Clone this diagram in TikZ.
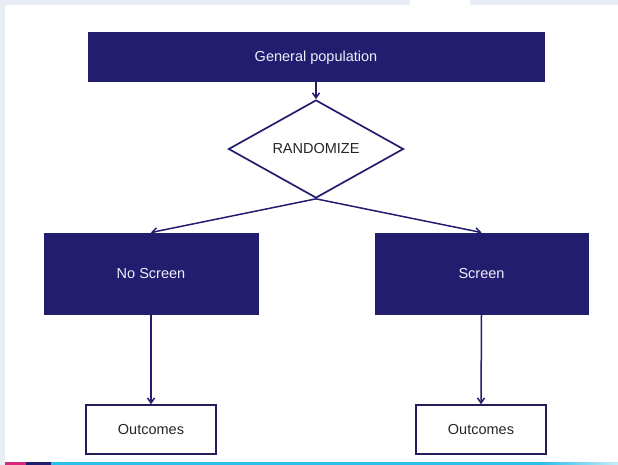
\documentclass[tikz,border=0pt]{standalone}
\usepackage{fontspec}
\setmainfont{Liberation Sans}
\usetikzlibrary{shapes.geometric,arrows.meta}
\definecolor{navy}{RGB}{35,29,112}
\definecolor{edge}{RGB}{35,30,90}
\definecolor{bgstrip}{RGB}{232,236,245}
\definecolor{magenta}{RGB}{214,40,122}
\definecolor{cyanline}{RGB}{40,190,232}
\definecolor{lightcyan}{RGB}{200,236,248}
\definecolor{boxtext}{RGB}{240,238,250}
\tikzset{
  darkbox/.style={draw=navy,fill=navy,text=boxtext,line width=1pt,inner sep=0pt,font=\fontsize{14.5}{17}\selectfont},
  outbox/.style={draw=edge,fill=white,text=black!85,line width=1.5pt,inner sep=0pt,minimum width=130pt,minimum height=49pt,font=\fontsize{14.5}{17}\selectfont},
  decision/.style={diamond,draw=navy,fill=white,line width=1.7pt,inner sep=0pt,minimum width=175pt,minimum height=98pt,text=black!85,font=\fontsize{14.5}{17}\selectfont},
  conn/.style={draw=navy,line width=1.5pt,-{Straight Barb[length=5pt,width=7pt]}}
}
\begin{document}
\begin{tikzpicture}[x=1pt,y=-1pt]
\useasboundingbox (0,0) rectangle (618,465);
% background
\fill[bgstrip] (0,0) rectangle (618,465);
\fill[white] (5,5) rectangle (618,462);
\fill[white] (410,0) rectangle (470,5);
% bottom band
\fill[magenta] (5,462) rectangle (26,465);
\fill[navy] (26,462) rectangle (51,465);
\fill[cyanline] (51,462) rectangle (540,465);
\shade[left color=cyanline,right color=lightcyan] (540,462) rectangle (618,465);
% nodes
\node[darkbox,minimum width=456pt,minimum height=49pt] (pop) at (316,57.5) {General population};
\node[decision] (rand) at (316,149) {RANDOMIZE};
\node[darkbox,minimum width=214pt,minimum height=81pt] (noscreen) at (151,273.5) {No Screen};
\node[darkbox,minimum width=213pt,minimum height=81pt] (screen) at (481.5,273.5) {Screen};
\node[outbox] (out1) at (151,429.5) {Outcomes};
\node[outbox] (out2) at (481,429.5) {Outcomes};
% connectors
\draw[conn] (pop.south) -- (rand.north);
\draw[conn] (rand.south) -- (noscreen.north);
\draw[conn] (rand.south) -- (screen.north);
\draw[conn] (noscreen.south) -- (out1.north);
\draw[conn] (screen.south) -- (out2.north);
\end{tikzpicture}
\end{document}
